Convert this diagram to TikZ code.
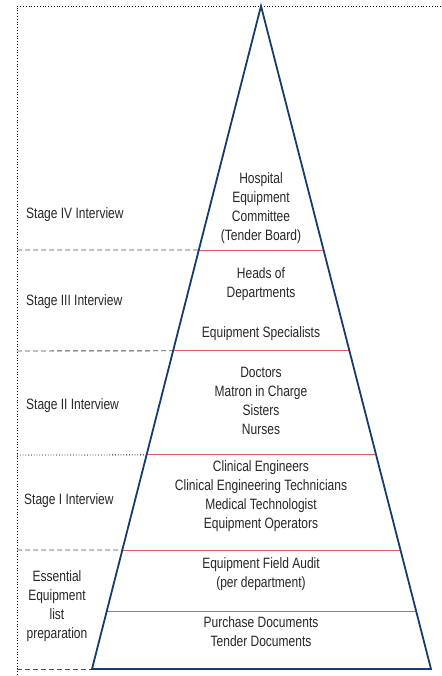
\documentclass[tikz,border=0pt]{standalone}
\usepackage{fontspec}
\setmainfont{Liberation Sans}[FakeStretch=0.8]
\usetikzlibrary{calc}

\definecolor{pyrblue}{RGB}{20,60,110}
\definecolor{pyrred}{RGB}{225,90,95}
\definecolor{sepgray}{RGB}{80,80,80}

\tikzset{
  lvl/.style={pyrred, line width=0.9pt},
  sepdash/.style={sepgray, dashed, dash pattern=on 5pt off 3pt, line width=0.9pt},
  sepdot/.style={black, dotted, line width=0.8pt},
  txt/.style={align=center, font=\fontsize{15}{19}\selectfont, text=black!85, inner sep=0pt},
}

\begin{document}
\begin{tikzpicture}[x=1pt,y=-1pt]
	\useasboundingbox (0,0) rectangle (441,676);
	% frame
	\draw[sepdot] (441,6) -- (17,6) -- (17,676);
	% pyramid
	\coordinate (apex) at (261,6);
	\coordinate (baseL) at (92,669);
	\coordinate (baseR) at (431,669);
	% level lines
	\foreach \n/\t in {a/0.368, b/0.520, c/0.677, d/0.8205, e/0.9125} {
		\coordinate (\n L) at ($(apex)!\t!(baseL)$);
		\coordinate (\n R) at ($(apex)!\t!(baseR)$);
		\draw[lvl] (\n L) -- (\n R);
	}
	% left separators
	\draw[sepdash] (17,250) -- (aL);
	\draw[sepdash] (17,351) -- (bL);
	\draw[sepdot] (17,455) -- (cL);
	\draw[sepdash] (17,550) -- (dL);
	\draw[sepdash] (17,669) -- (baseL);
	\draw[pyrblue, line width=1.8pt, line join=miter] (apex) -- (baseL) -- (baseR) -- cycle;
	% stages
	\node[txt, anchor=west] (s4) at (26,214.5) {Stage IV Interview};
	\node[txt, anchor=west] (s3) at (26,301.5) {Stage III Interview};
	\node[txt, anchor=west] (s2) at (26,405.5) {Stage II Interview};
	\node[txt, anchor=west] (s1) at (24,500.5) {Stage I Interview};
	\node[txt] (s0) at (57,606) {Essential\\Equipment\\list\\preparation};
	% groups
	\node[txt] (g4) at (261,208.5) {Hospital\\Equipment\\Committee\\(Tender Board)};
	\node[txt] (g3a) at (261,284.5) {Heads of\\Departments};
	\node[txt] (g3b) at (261,333.5) {Equipment Specialists};
	\node[txt] (g2) at (261,401) {Doctors\\Matron in Charge\\Sisters\\Nurses};
	\node[txt] (g1) at (261,496) {Clinical Engineers\\Clinical Engineering Technicians\\Medical Technologist\\Equipment Operators};
	\node[txt] (g0a) at (261,574) {Equipment Field Audit\\(per department)};
	\node[txt] (g0b) at (261,632) {Purchase Documents\\Tender Documents};
\end{tikzpicture}
\end{document}
